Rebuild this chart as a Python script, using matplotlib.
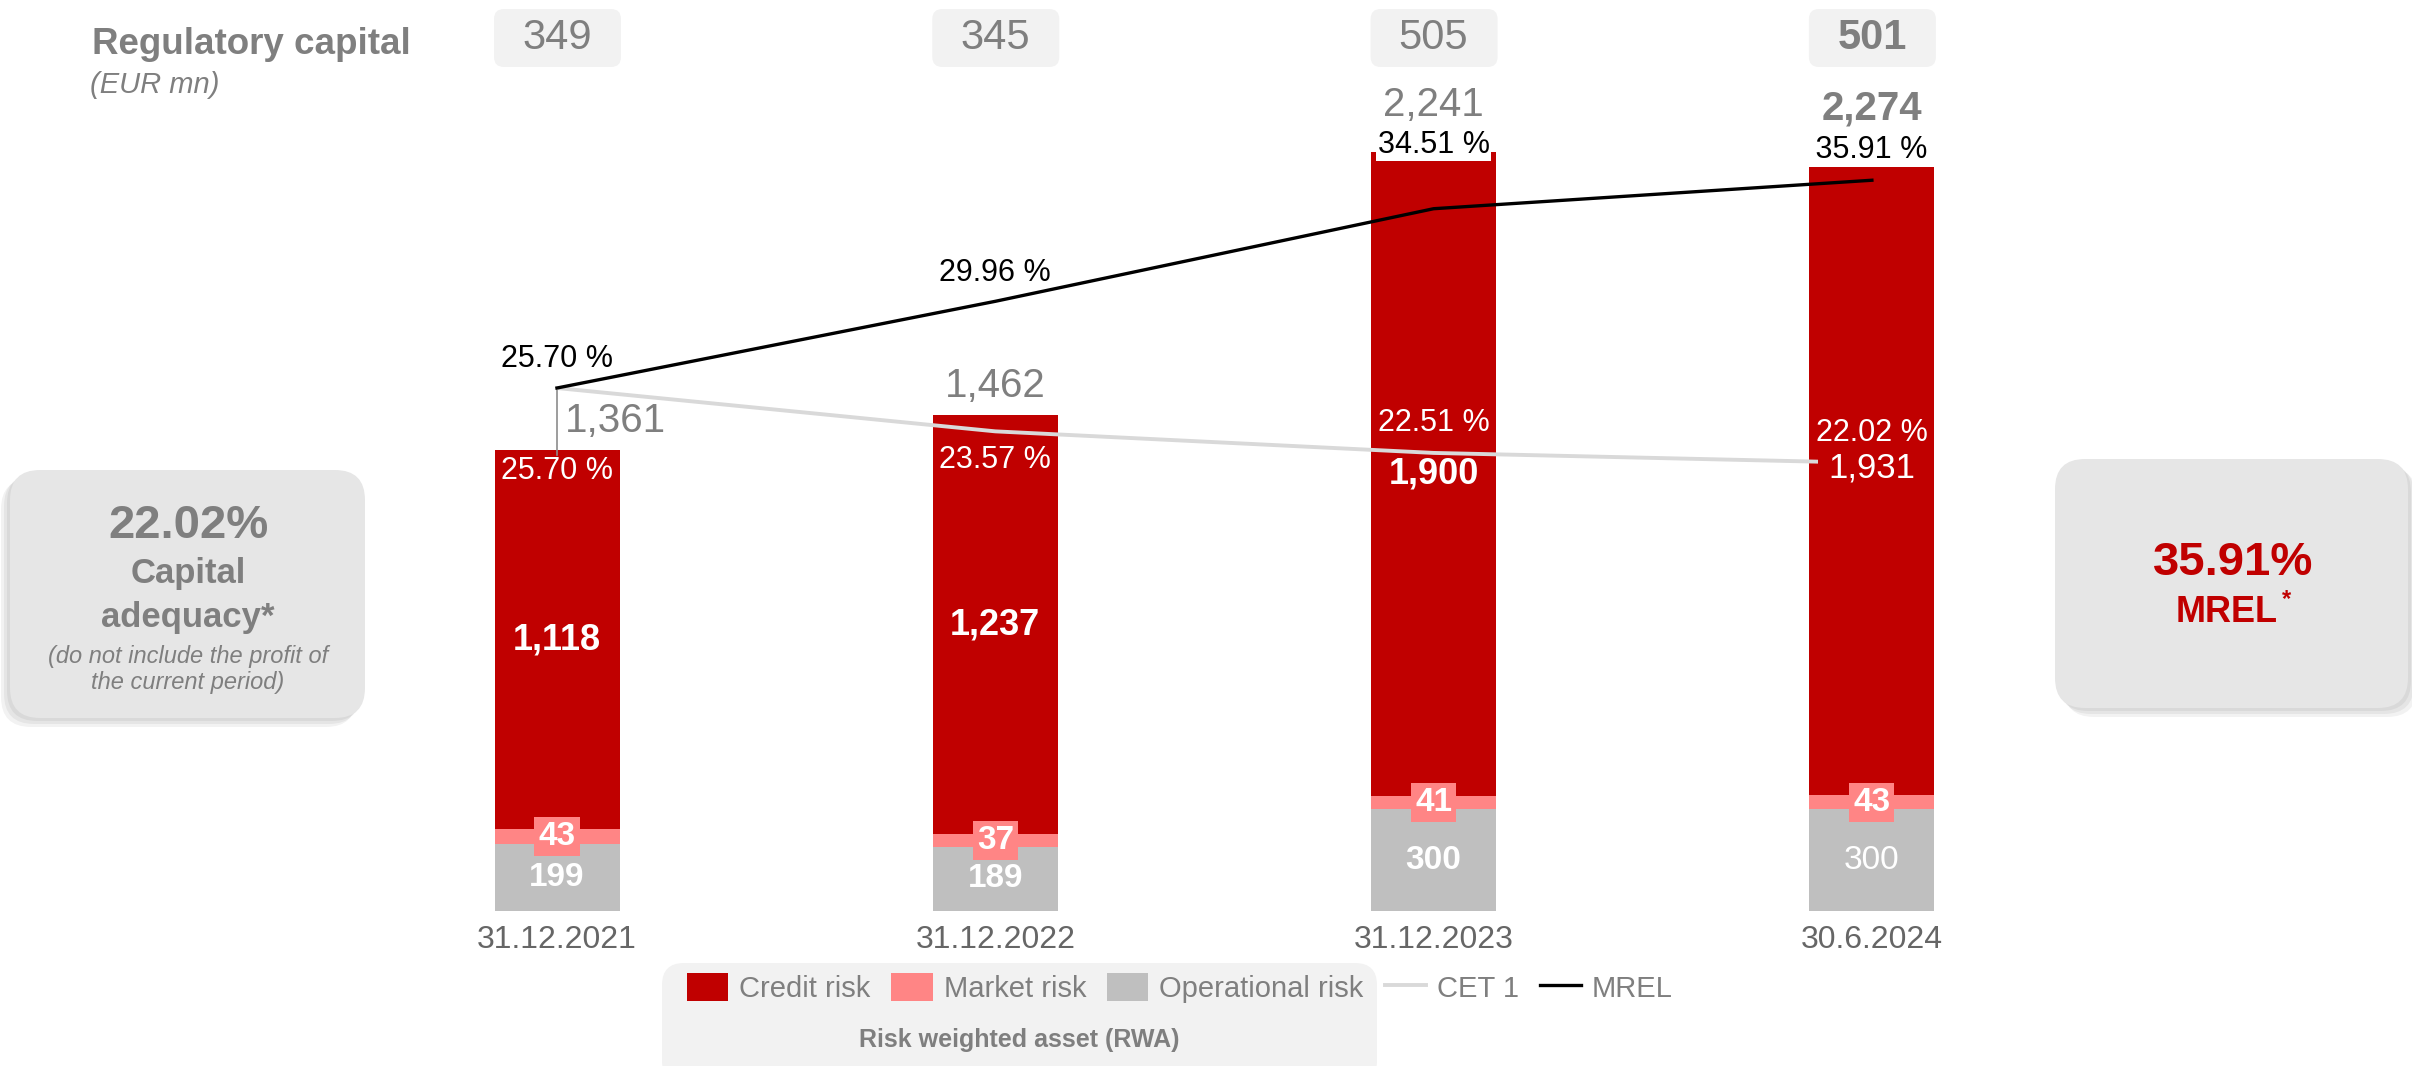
import numpy as np
import matplotlib
matplotlib.use("Agg")
import matplotlib.pyplot as plt
from matplotlib.patches import FancyBboxPatch
from matplotlib.transforms import IdentityTransform

plt.rcParams['font.family'] = ['Liberation Sans', 'DejaVu Sans']

# data
dates = ["31.12.2021", "31.12.2022", "31.12.2023", "30.6.2024"]
credit_risk = [1118, 1237, 1900, 1931]
market_risk = [43, 37, 41, 43]
operational_risk = [199, 189, 300, 300]
rwa_total = [1361, 1462, 2241, 2274]
regulatory_capital = [349, 345, 505, 501]
cet1 = [25.70, 23.57, 22.51, 22.02]
mrel = [25.70, 29.96, 34.51, 35.91]

RED = "#c00000"
PINK = "#ff8585"
GREY = "#bfbfbf"
TXT = "#7f7f7f"

W, H = 2412, 1066
fig = plt.figure(figsize=(W / 100, H / 100), dpi=100)
ax = fig.add_axes([0, 0, 1, 1])
ax.axis("off")

# layout of the plot area (pixels)
base_px, px_unit, px_pct = 911, 0.3387, 20.35
slot, x0 = 438.3, 557
ax.set_xlim(-x0 / slot, (W - x0) / slot)
ax.set_ylim(-(H - base_px) / px_unit, base_px / px_unit)
ax2 = ax.twinx()
ax2.axis("off")
ax2.set_ylim(-(H - base_px) / px_pct, base_px / px_pct)

x = np.arange(len(dates))
bw = 125 / slot
b_op = ax.bar(x, operational_risk, bw, color=GREY, zorder=2, label="Operational risk")
b_mk = ax.bar(x, market_risk, bw, bottom=operational_risk, color=PINK, zorder=2, label="Market risk")
mid = np.add(operational_risk, market_risk)
b_cr = ax.bar(x, credit_risk, bw, bottom=mid, color=RED, zorder=2, label="Credit risk")
tops = mid + np.array(credit_risk)

l_cet, = ax2.plot(x, cet1, color="#d9d9d9", lw=2.8, zorder=3, label="CET 1")
l_mrel, = ax2.plot(x, mrel, color="black", lw=2.4, zorder=4, label="MREL")

# leader line from first point down to first bar
y_pt = ax.transData.inverted().transform(ax2.transData.transform((0, mrel[0])))[1]
ax.plot([0, 0], [tops[0] * 0.99, y_pt], color="#8c8c8c", lw=1.2, zorder=3)

tdata = ax.transData

# line labels
mrel_dy = [29, 28, 64, 30]
mrel_box = [False, False, True, True]
cet1_dy = [-83, -29, 30, 30]
for i in x:
    s = f"{mrel[i]:.2f} %"
    if i == len(x) - 1:
        s = f" {s} "
    ax2.annotate(s, (i, mrel[i]), xytext=(0, mrel_dy[i]), textcoords="offset pixels",
                 ha="center", va="center", fontsize=22, color="black", zorder=6,
                 bbox=dict(boxstyle="square,pad=0.05", fc="white", ec="none") if mrel_box[i] else None)
    ax2.annotate(f"{cet1[i]:.2f} %", (i, cet1[i]), xytext=(0, cet1_dy[i]), textcoords="offset pixels",
                 ha="center", va="center", fontsize=22, color="white", zorder=7)

# bar labels
total_dy = [29, 29, 47, 32]
total_dx = [58, 0, 0, 0]
for i in x:
    last = i == len(x) - 1
    ax2.annotate(f"{rwa_total[i]:,}", (i, tops[i]), xycoords=tdata, xytext=(total_dx[i], total_dy[i]),
                 textcoords="offset pixels", ha="center", va="center", fontsize=29, color=TXT,
                 fontweight="bold" if last else "normal")
    ax2.annotate(f"{credit_risk[i]:,}", (i, mid[i] + credit_risk[i] / 2), xycoords=tdata,
                 ha="center", va="center",
                 fontsize=25 if last else 26, color="white", fontweight="normal" if last else "bold",
                 bbox=dict(boxstyle="square,pad=0.3", fc=RED, ec="none") if last else None, zorder=5)
    ax2.annotate(f"{market_risk[i]}", (i, operational_risk[i] + market_risk[i] / 2), xycoords=tdata,
                 ha="center", va="center", fontsize=24, color="white", fontweight="bold",
                 bbox=dict(boxstyle="square,pad=0.12", fc=PINK, ec="none"))
    ax2.annotate(f"{operational_risk[i]}", (i, operational_risk[i] / 2), xycoords=tdata,
                 ha="center", va="center", fontsize=24, color="white",
                 fontweight="normal" if last else "bold")
    ax2.annotate(dates[i], (i, 0), xycoords=tdata, xytext=(0, -29), textcoords="offset pixels",
                 ha="center", va="center", fontsize=23, color="#666666")


def rbox(xl, yt, w, h, r, fc, alpha=1.0):
    p = FancyBboxPatch((xl + r, H - yt - h + r), w - 2 * r, h - 2 * r,
                       boxstyle=f"round,pad={r}", transform=IdentityTransform(),
                       fc=fc, ec="none", alpha=alpha, zorder=0)
    fig.add_artist(p)


def ftext(px, py, s, **kw):
    fig.text(px / W, 1 - py / H, s, ha=kw.pop("ha", "center"), va=kw.pop("va", "center"), **kw)


# regulatory capital boxes on top
for i in x:
    cx = tdata.transform((i, 0))[0]
    rbox(cx - 63, 9, 127, 58, 10, "#f2f2f2")
    ftext(cx, 38, f"{regulatory_capital[i]}", fontsize=30, color=TXT,
          fontweight="bold" if i == len(x) - 1 else "normal")

ftext(92, 44, "Regulatory capital", ha="left", fontsize=26.5, fontweight="bold", color=TXT)
ftext(90, 85, "(EUR mn)", ha="left", fontsize=21, style="italic", color=TXT)

# left callout
for k in (3, 6, 9):
    rbox(10 - k, 470 + k, 355, 248, 30, "black", alpha=0.05)
rbox(10, 470, 355, 248, 30, "#e6e6e6")
ftext(188, 526, f"{cet1[-1]:.2f}%", fontsize=34, fontweight="bold", color=TXT)
ftext(188, 574, "Capital", fontsize=25, fontweight="bold", color=TXT)
ftext(188, 617, "adequacy*", fontsize=25, fontweight="bold", color=TXT)
ftext(188, 656, "(do not include the profit of", fontsize=17, style="italic", color=TXT)
ftext(188, 682, "the current period)", fontsize=17, style="italic", color=TXT)

# right callout
for k in (3, 6, 9):
    rbox(2055 + k, 459 + k, 353, 249, 30, "black", alpha=0.05)
rbox(2055, 459, 353, 249, 30, "#e6e6e6")
ftext(2233, 563, f"{mrel[-1]:.2f}%", fontsize=34, fontweight="bold", color=RED)
ftext(2227, 613, "MREL", fontsize=26, fontweight="bold", color=RED)
ftext(2286, 600, "*", fontsize=17, fontweight="bold", color=RED)

# legend
rbox(662, 963, 715, 120, 22, "#f2f2f2")
fig.legend([b_cr, b_mk, b_op, l_cet, l_mrel], ["Credit risk", "Market risk", "Operational risk", "CET 1", "MREL"],
           ncol=5, loc="center left", bbox_to_anchor=(687 / W, 1 - 988 / H), frameon=False,
           fontsize=21, labelcolor=TXT, handlelength=1.41, handleheight=1.07, handletextpad=0.38,
           columnspacing=0.72, borderpad=0, borderaxespad=0)
ftext(1019, 1040, "Risk weighted asset (RWA)", fontsize=18, fontweight="bold", color=TXT)

fig.savefig("out.png", dpi=100)
